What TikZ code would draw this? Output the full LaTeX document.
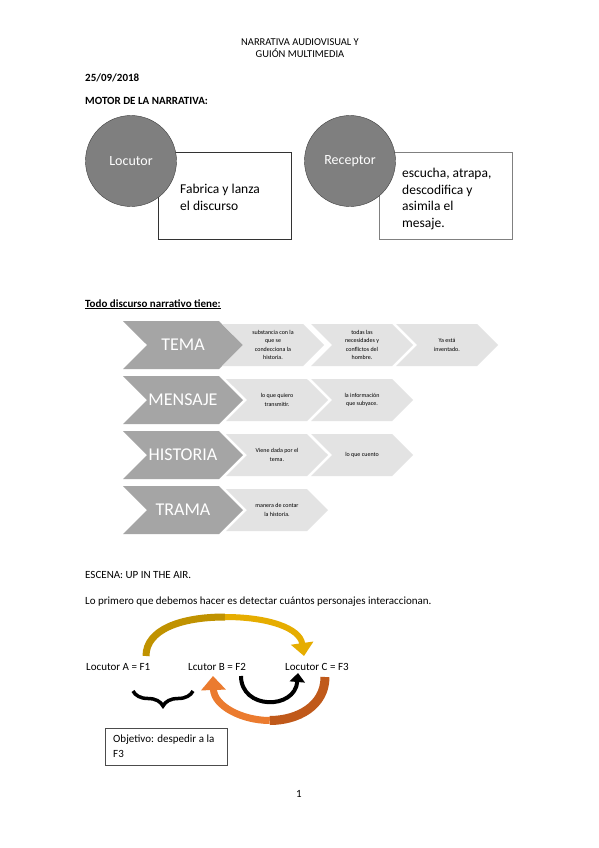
\documentclass[tikz,border=0pt]{standalone}
\usepackage{fontspec}
\setmainfont{Carlito}
\usetikzlibrary{arrows.meta,shapes.symbols,decorations.pathreplacing}
\definecolor{circgray}{HTML}{7F7F7F}
\definecolor{chevdark}{HTML}{A5A5A5}
\definecolor{chevlight}{HTML}{E3E3E3}
\definecolor{goldA}{HTML}{C09200}
\definecolor{goldB}{HTML}{E6AD00}
\definecolor{orangeA}{HTML}{C0591A}
\definecolor{orangeB}{HTML}{EB7B2F}

\begin{document}
\begin{tikzpicture}[x=1pt,y=-1pt,
    txt/.style={anchor=base west,inner sep=0,font=\fontsize{11}{14.5}\selectfont},
    bigchev/.style={shape=signal,signal from=west,signal to=east,fill=chevdark,
      minimum width=120,minimum height=48,inner sep=0,text=white,
      font=\fontsize{18}{20}\selectfont},
    smallchev/.style={shape=signal,signal from=west,signal to=east,fill=chevlight,
      minimum width=102,minimum height=42,inner sep=0,align=center,
      font=\fontsize{6}{8.5}\selectfont},
    person/.style={circle,fill=circgray,draw=black!75,minimum size=91,text=white,
      font=\fontsize{14}{16}\selectfont},
    card/.style={draw,fill=white,minimum width=133,minimum height=87,anchor=north west}]
    
    \fill[white] (0,0) rectangle (599,848);
    \useasboundingbox (0,0) rectangle (599,848);

    % cabecera (la base es la de la ultima linea)
    \node[font=\fontsize{10.5}{12}\selectfont,align=center,anchor=base] (head) at (300,58)
      {NARRATIVA AUDIOVISUAL Y\\GUIÓN MULTIMEDIA};
    \node[txt] (date) at (85,82) {\bfseries 25/09/2018};
    \node[txt] (motor) at (85,105) {\bfseries MOTOR DE LA NARRATIVA:};

    % locutor y receptor
    \node[card,draw=black!80] (locbox) at (158,152) {};
    \node[person] (loc) at (131,161) {Locutor};
    \node[txt,font=\fontsize{13.5}{17}\selectfont,align=left] (locdesc) at (180,210)
      {Fabrica y lanza\\el discurso};
    \node[card,draw=black!50] (recbox) at (379,152) {};
    \node[person] (rec) at (350,161) {Receptor};
    \node[txt,font=\fontsize{13.5}{16.5}\selectfont,align=left] (recdesc) at (402,227)
      {escucha, atrapa,\\descodifica y\\asimila el\\mesaje.};

    % todo discurso narrativo
    \node[txt] (todo) at (85,307) {\bfseries\underline{Todo discurso narrativo tiene:}};

    \node[bigchev] (tema) at (183,345) {TEMA};
    \node[smallchev] (t1) at (273,345) {substancia con la\\que se\\condecciona la\\historia.};
    \node[smallchev] (t2) at (362,345) {todas las\\necesidades y\\conflictos del\\hombre.};
    \node[smallchev] (t3) at (447,345) {Ya está\\inventado.};

    \node[bigchev] (mensaje) at (183,400) {MENSAJE};
    \node[smallchev] (m1) at (277,400) {lo que quiero\\transmitir.};
    \node[smallchev] (m2) at (362,400) {la información\\que subyace.};

    \node[bigchev] (historia) at (183,455) {HISTORIA};
    \node[smallchev] (h1) at (277,455) {Viene dada por el\\tema.};
    \node[smallchev] (h2) at (362,455) {lo que cuento};

    \node[bigchev] (trama) at (183,510) {TRAMA};
    \node[smallchev] (r1) at (277,510) {manera de contar\\la historia.};

    % escena
    \node[txt] (escena) at (85,578) {ESCENA: UP IN THE AIR.};
    \node[txt] (primero) at (85,604)
      {Lo primero que debemos hacer es detectar cuántos personajes interaccionan.};

    \node[txt] (la) at (86,670) {Locutor A = F1};
    \node[txt] (lb) at (188,670) {Lcutor B = F2};
    \node[txt] (lc) at (285,670) {Locutor C = F3};

    \coordinate (g1) at (146,656);
    \coordinate (gtop) at (225,617);
    \coordinate (g2) at (304,656);
    \draw[goldA,line width=7] (g1) .. controls (146,630) and (180,617) .. (gtop);
    \draw[goldB,line width=6,-{Triangle[length=13pt,width=22pt]}]
      (gtop) .. controls (268,617) and (300,628) .. (g2);

    \coordinate (o1) at (325,677);
    \coordinate (obot) at (269.75,720.5);
    \coordinate (o2) at (213,676);
    \draw[orangeA,line width=9] (o1) .. controls (325,706) and (297.5,720.5) .. (obot);
    \draw[orangeB,line width=7,-{Triangle[length=14pt,width=24pt]}]
      (obot) .. controls (242,720.5) and (214,706) .. (o2);

    \coordinate (b1) at (241,676);
    \coordinate (b2) at (298,673);
    \draw[black,line width=4,-{Triangle[length=9pt,width=15pt]}]
      (b1) .. controls (241,710) and (295,710) .. (b2);

    \coordinate (br1) at (193,691);
    \coordinate (br2) at (133,691);
    \draw[line width=3.5,decorate,decoration={brace,amplitude=15pt}] (br1) -- (br2);

    \node[draw=black!70,minimum width=122,minimum height=37,anchor=north west] (obj) at (105,728) {};
    \node[txt,align=left] (objtxt) at (113,757) {Objetivo: despedir a la\\F3};

    \node[txt,anchor=base] (page) at (299,797) {1};
  \end{tikzpicture}
\end{document}
